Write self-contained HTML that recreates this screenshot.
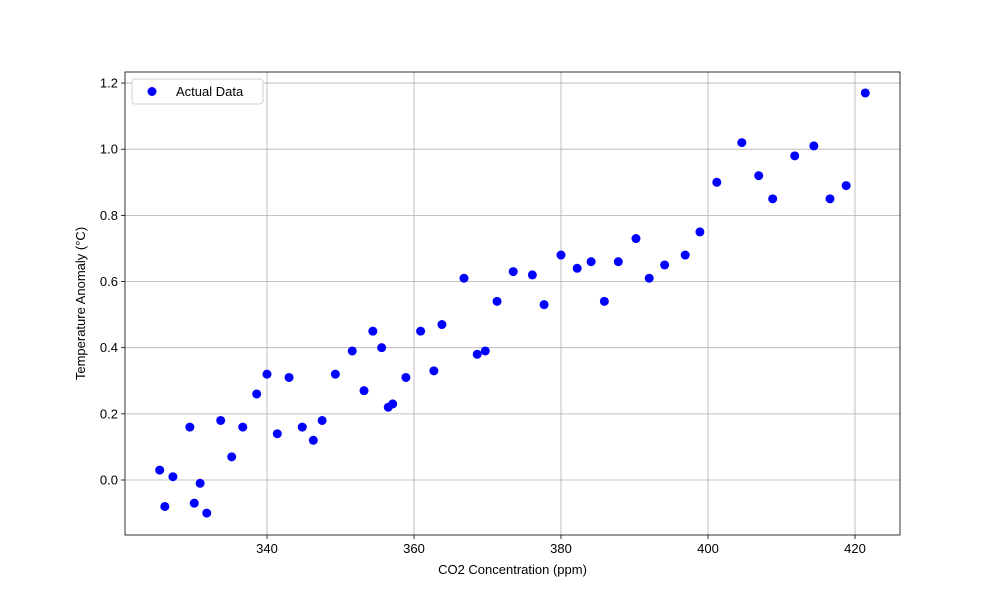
<!DOCTYPE html>
<html><head><meta charset="utf-8"><style>body{margin:0;background:#fff}svg{display:block;font-family:"Liberation Sans","DejaVu Sans",sans-serif}</style></head>
<body>
<svg id="chart" width="1000" height="600"></svg>
<script>
const co2 = [325.4,326.1,327.2,329.5,330.1,330.9,331.8,333.7,335.2,336.7,338.6,340.0,341.4,343.0,344.8,346.3,347.5,349.3,351.6,353.2,354.4,355.6,356.5,357.1,358.9,360.9,362.7,363.8,366.8,368.6,369.7,371.3,373.5,376.1,377.7,380.0,382.2,384.1,385.9,387.8,390.2,392.0,394.1,396.9,398.9,401.2,404.6,406.9,408.8,411.8,414.4,416.6,418.8,421.4];
const anomaly = [0.03,-0.08,0.01,0.16,-0.07,-0.01,-0.10,0.18,0.07,0.16,0.26,0.32,0.14,0.31,0.16,0.12,0.18,0.32,0.39,0.27,0.45,0.40,0.22,0.23,0.31,0.45,0.33,0.47,0.61,0.38,0.39,0.54,0.63,0.62,0.53,0.68,0.64,0.66,0.54,0.66,0.73,0.61,0.65,0.68,0.75,0.90,1.02,0.92,0.85,0.98,1.01,0.85,0.89,1.17];
const xTicks = [340,360,380,400,420];
const yTicks = [0.0,0.2,0.4,0.6,0.8,1.0,1.2];
const yTickLabels = ["0.0","0.2","0.4","0.6","0.8","1.0","1.2"];

const L=125,R=900,T=72,B=535;
const xs=v=>267+(v-340)*7.35;
const ys=v=>480-v*330.8;
const svg=document.getElementById('chart');
const NS='http://www.w3.org/2000/svg';
function mk(tag,attrs,parent){const e=document.createElementNS(NS,tag);for(const k in attrs)e.setAttribute(k,attrs[k]);(parent||svg).appendChild(e);return e;}

const grid=mk('g',{});


const xt=mk('g',{});


xTicks.forEach(v=>{const x=xs(v);
 mk('line',{x1:x,x2:x,y1:T,y2:B,stroke:'#b0b0b0','stroke-width':0.8},grid);
 mk('line',{x1:x,x2:x,y1:B,y2:B+4,stroke:'#000','stroke-width':0.8},xt);
 const t=mk('text',{x:x,y:B+18,'text-anchor':'middle','font-size':13},xt);t.textContent=v;
 
 
});
const yt=mk('g',{});


yTicks.forEach((v,i)=>{const y=ys(v);
 mk('line',{x1:L,x2:R,y1:y,y2:y,stroke:'#b0b0b0','stroke-width':0.8},grid);
 mk('line',{x1:L-4,x2:L,y1:y,y2:y,stroke:'#000','stroke-width':0.8},yt);
 const t=mk('text',{x:L-7,y:y+4.5,'text-anchor':'end','font-size':13},yt);t.textContent=yTickLabels[i];
 
 
});
const pts=mk('g',{});


co2.forEach((c,i)=>{const p=mk('circle',{cx:xs(c),cy:ys(anomaly[i]),r:4.5,fill:'#0000ff'},pts);
 
 
});
const frame=mk('rect',{x:L,y:T,width:R-L,height:B-T,fill:'none',stroke:'#000','stroke-width':0.8});


const xl=mk('text',{x:(L+R)/2,y:574,'text-anchor':'middle','font-size':13});xl.textContent='CO2 Concentration (ppm)';


const yl=mk('text',{x:0,y:0,'text-anchor':'middle','font-size':13,transform:'translate(85,'+((T+B)/2)+') rotate(-90)'});yl.textContent='Temperature Anomaly (°C)';


const lg=mk('g',{});


mk('rect',{x:132,y:79,width:131,height:25,rx:3,fill:'#fff',stroke:'#d0d0d0','stroke-width':1},lg);
mk('circle',{cx:152,cy:91.5,r:4.5,fill:'#0000ff'},lg);
const lt=mk('text',{x:176,y:96,'font-size':13},lg);lt.textContent='Actual Data';


</script>
</body></html>
